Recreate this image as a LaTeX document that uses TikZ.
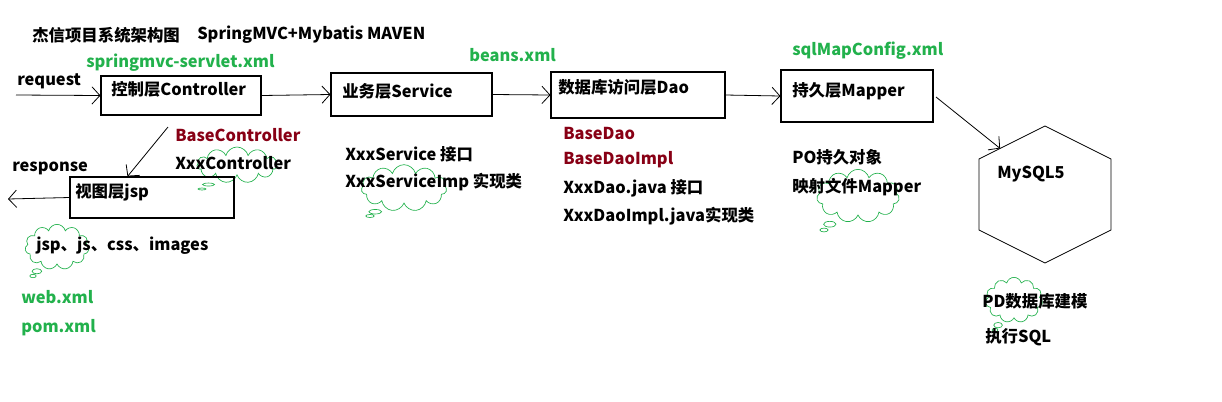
\documentclass[tikz,border=0pt]{standalone}
\usepackage{fontspec}
\setmainfont{Noto Sans CJK SC}
\usetikzlibrary{arrows.meta,shapes.callouts,shapes.symbols,calc}
\definecolor{pgreen}{RGB}{34,177,76}
\definecolor{pred}{RGB}{136,0,21}
\begin{document}
\begin{tikzpicture}[x=0.75pt,y=-0.75pt,
  txt/.style={anchor=west,inner sep=0pt,font=\fontsize{12.3pt}{14pt}\selectfont\bfseries},
  gtxt/.style={txt,text=pgreen},
  rtxt/.style={txt,text=pred},
  box/.style={draw,line width=0.8pt,inner sep=0pt},
  arr/.style={-{Straight Barb[length=6pt,width=13pt]},line width=0.6pt},
  cld/.style={cloud callout,draw=pgreen,line width=0.5pt,cloud puffs=11,aspect=1.6,inner sep=0pt}]
\useasboundingbox (0,0) rectangle (1222,401);
% clouds (behind text)
\node[cld,minimum width=60pt,minimum height=27pt,callout absolute pointer={(202,189)}] (cl1) at (237,165) {};
\node[cld,minimum width=64pt,minimum height=35pt,callout absolute pointer={(370,216)}] (cl2) at (404,188) {};
\node[cld,minimum width=62pt,minimum height=40pt,callout absolute pointer={(824,230)}] (cl3) at (858,196) {};
\node[cld,minimum width=43pt,minimum height=34pt,aspect=1.3,callout absolute pointer={(995,330)}] (cl4) at (1014,300) {};
\node[cld,minimum width=48pt,minimum height=34pt,aspect=1.4,callout absolute pointer={(33,276)}] (cl5) at (57,247) {};
% titles
\node[txt] (t1) at (32,35) {杰信项目系统架构图};
\node[txt] (t2) at (197,35) {SpringMVC+Mybatis MAVEN};
% boxes
\node[box,minimum width=120pt,minimum height=29.25pt] (ctrl) at (181,95.5) {};
\node[box,minimum width=120.75pt,minimum height=32.25pt] (svc) at (411.5,94.5) {};
\node[box,minimum width=130.5pt,minimum height=34.5pt] (dao) at (638,95) {};
\node[box,minimum width=114pt,minimum height=39pt] (map) at (857,96) {};
\node[box,minimum width=123pt,minimum height=30.75pt] (view) at (152,197.5) {};
% box texts
\node[txt] (ctrlT) at (111,89) {控制层Controller};
\node[txt] (svcT) at (342,91) {业务层Service};
\node[txt] (daoT) at (558,87) {数据库访问层Dao};
\node[txt] (mapT) at (792,91) {持久层Mapper};
\node[txt] (viewT) at (75,192) {视图层jsp};
% green config labels
\node[gtxt] (g1) at (86,63) {springmvc-servlet.xml};
\node[gtxt] (g2) at (469,55) {beans.xml};
\node[gtxt] (g3) at (792,51) {sqlMapConfig.xml};
\node[gtxt] (g4) at (21,297) {web.xml};
\node[gtxt] (g5) at (21,328) {pom.xml};
% request / response
\node[txt] (req) at (17,81) {request};
\node[txt] (resp) at (12,168) {response};
\coordinate (reqS) at (16,95);
\coordinate (respE) at (8,199);
\draw[arr] (reqS) -- (ctrl.west);
\draw[arr] (view.west) -- (respE);
% chain arrows
\draw[arr] (ctrl.east) -- (svc.west);
\draw[arr] (svc.east) -- (dao.west);
\draw[arr] (dao.east) -- (map.west);
\coordinate (c1) at (168,127);
\draw[arr] (c1) -- ($(view.north west)+(58,0)$);
% controller notes
\node[rtxt] (bc) at (175,135) {BaseController};
\node[txt] (xc) at (175,163) {XxxController};
% service notes
\node[txt] (xs) at (345,154) {XxxService 接口};
\node[txt] (xsi) at (345,182) {XxxServiceImp 实现类};
% dao notes
\node[rtxt] (bd) at (563,133) {BaseDao};
\node[rtxt] (bdi) at (563,160) {BaseDaoImpl};
\node[txt] (xd) at (563,188) {XxxDao.java 接口};
\node[txt] (xdi) at (563,216) {XxxDaoImpl.java实现类};
% mapper notes
\node[txt] (po) at (792,157) {PO持久对象};
\node[txt] (ys) at (792,187) {映射文件Mapper};
% view notes
\node[txt] (jsp) at (36,246) {jsp、js、css、images};
% hexagon
\coordinate (h1) at (1045,126);
\coordinate (h2) at (1111,159);
\coordinate (h3) at (1111,230);
\coordinate (h4) at (1045,263);
\coordinate (h5) at (979,230);
\coordinate (h6) at (979,159);
\draw[line width=0.6pt] (h1) -- (h2) -- (h3) -- (h4) -- (h5) -- (h6) -- cycle;
\coordinate (hE) at ($(h6)!0.32!(h1)$);
\coordinate (mS) at (936,97);
\draw[arr] (mS) -- (hE);
\node[txt] (my) at (997,174) {MySQL5};
\node[txt] (pd) at (982,301) {PD数据库建模};
\node[txt] (sql) at (985,337) {执行SQL};
\end{tikzpicture}
\end{document}
